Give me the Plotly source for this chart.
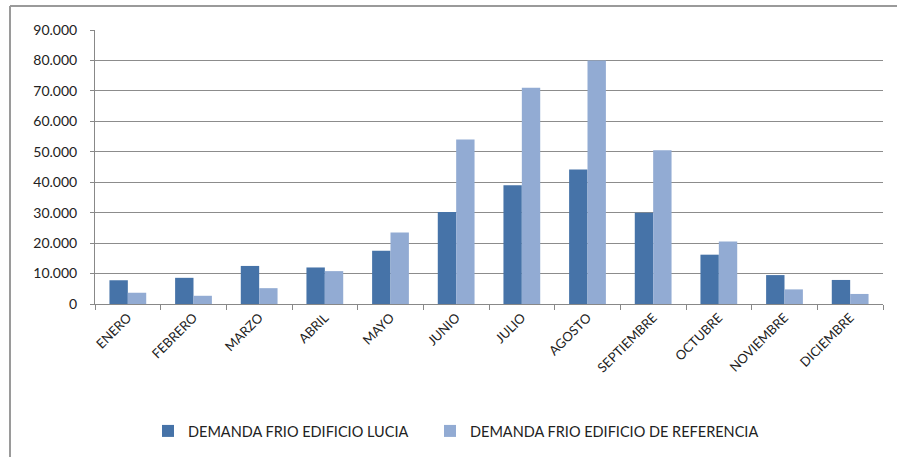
import plotly.graph_objects as go

months = ["ENERO", "FEBRERO", "MARZO", "ABRIL", "MAYO", "JUNIO", "JULIO",
          "AGOSTO", "SEPTIEMBRE", "OCTUBRE", "NOVIEMBRE", "DICIEMBRE"]
demanda_lucia = [7800, 8600, 12500, 12000, 17500, 30200, 39000,
                 44200, 30000, 16200, 9500, 7900]
demanda_referencia = [3700, 2700, 5200, 10800, 23500, 54000, 71000,
                      80000, 50500, 20500, 4800, 3300]
name_lucia = "DEMANDA FRIO EDIFICIO LUCIA"
name_referencia = "DEMANDA FRIO EDIFICIO DE REFERENCIA"
y_ticks = [0, 10000, 20000, 30000, 40000, 50000, 60000, 70000, 80000, 90000]
y_tick_text = ["0", "10.000", "20.000", "30.000", "40.000", "50.000",
               "60.000", "70.000", "80.000", "90.000"]

FONT = "Lato, Open Sans, sans-serif"
W, H = 897, 457
ML, MR, MT, MB = 95, 14, 30, 152

fig = go.Figure()
fig.add_trace(go.Bar(x=months, y=demanda_lucia, name=name_lucia,
                     legend="legend",
                     marker=dict(color="#4673A8", line=dict(width=0))))
fig.add_trace(go.Bar(x=months, y=demanda_referencia, name=name_referencia,
                     legend="legend2",
                     marker=dict(color="#92ABD3", line=dict(width=0))))

pw = W - ML - MR
ph = H - MT - MB


def px_x(p):
    return (p - ML) / pw


def px_y(p):
    return (H - MB - p) / ph


# outer chart frame (top and left edges)
frame = dict(color="#9a9a9a", width=2)
fig.add_shape(type="line", xref="paper", yref="paper",
              x0=px_x(10), x1=px_x(W + 5), y0=px_y(6), y1=px_y(6), line=frame)
fig.add_shape(type="line", xref="paper", yref="paper",
              x0=px_x(10), x1=px_x(10), y0=px_y(6), y1=px_y(H + 5), line=frame)

legend_style = dict(orientation="h", xanchor="left", yanchor="middle",
                    y=px_y(431), font=dict(size=14.5, color="#222"),
                    itemwidth=30, bgcolor="rgba(0,0,0,0)")

fig.update_layout(
    width=W, height=H,
    margin=dict(l=ML, r=MR, t=MT, b=MB),
    paper_bgcolor="white", plot_bgcolor="white",
    barmode="group", bargap=0.44, bargroupgap=0,
    font=dict(family=FONT, color="#222", size=12),
    showlegend=True,
    legend=dict(x=px_x(148), **legend_style),
    legend2=dict(x=px_x(430), **legend_style),
)
fig.update_xaxes(
    type="category", tickangle=-45, tickson="boundaries",
    ticks="outside", ticklen=5, tickcolor="#888",
    showline=True, linecolor="#888", linewidth=1,
    showgrid=False, tickfont=dict(size=13, color="#222"),
)
fig.update_yaxes(
    range=[0, 90000], tickvals=y_ticks, ticktext=y_tick_text,
    ticks="outside", ticklen=4, tickcolor="#888",
    showline=True, linecolor="#888", linewidth=1,
    showgrid=True, gridcolor="#8c8c8c", gridwidth=1.3,
    zeroline=False, tickfont=dict(size=14, color="#222"),
    ticklabelstandoff=10,
)

fig.write_html("out.html")
